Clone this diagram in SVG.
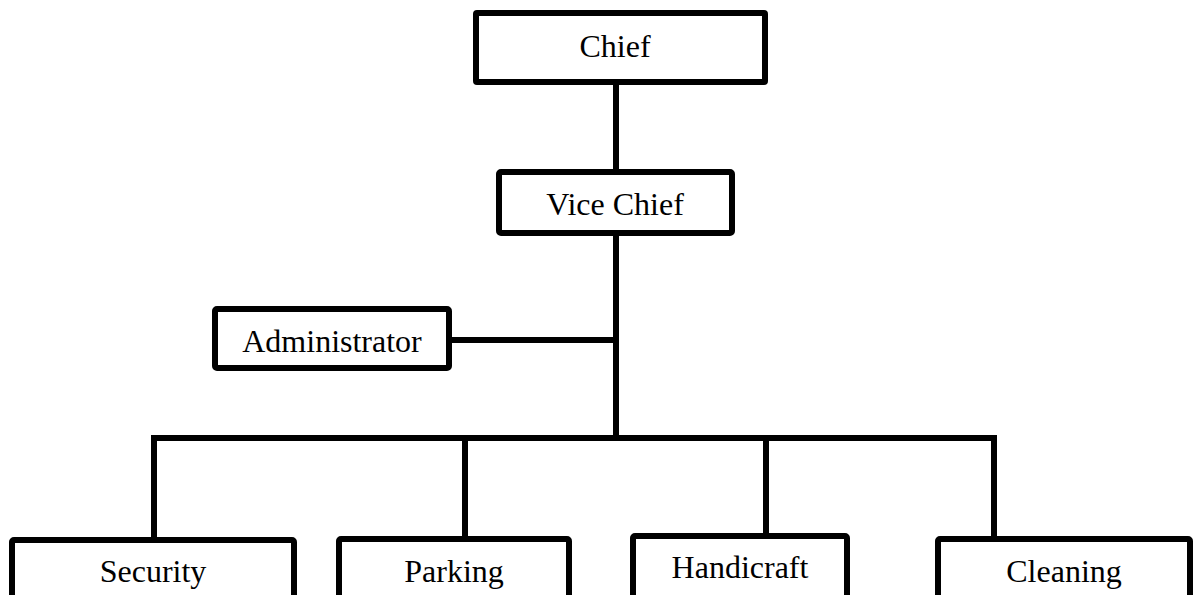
<svg xmlns="http://www.w3.org/2000/svg" width="1200" height="595" viewBox="0 0 1200 595">
  <style>
    .box { fill: #ffffff; stroke: #000000; stroke-width: 6; stroke-linejoin: round; }
    .wire { fill: none; stroke: #000000; stroke-width: 6; stroke-linecap: butt; stroke-linejoin: miter; }
    .label { font-family: "Liberation Serif", "Times New Roman", serif; font-size: 32px; fill: #000000; text-anchor: middle; }
  </style>
  <rect width="1200" height="595" fill="#ffffff"/>

  <!-- connectors -->
  <g id="connectors">
    <line class="wire" x1="616" y1="85" x2="616" y2="172"/>
    <line class="wire" x1="616" y1="233" x2="616" y2="441"/>
    <line class="wire" x1="449" y1="340" x2="616" y2="340"/>
    <path class="wire" d="M154 540 V438 H994 V540"/>
    <line class="wire" x1="465" y1="438" x2="465" y2="539"/>
    <line class="wire" x1="766" y1="438" x2="766" y2="536"/>
  </g>

  <g id="chief">
    <rect class="box" x="476" y="13" width="289" height="69" rx="1"/>
    <text class="label" x="615" y="57">Chief</text>
  </g>

  <g id="vice-chief">
    <rect class="box" x="499" y="172" width="233" height="61" rx="2"/>
    <text class="label" x="615" y="215">Vice Chief</text>
  </g>

  <g id="administrator">
    <rect class="box" x="215" y="309" width="234" height="59" rx="2"/>
    <text class="label" x="332" y="352">Administrator</text>
  </g>

  <g id="security">
    <rect class="box" x="12" y="540" width="282" height="80" rx="2"/>
    <text class="label" x="153" y="582">Security</text>
  </g>

  <g id="parking">
    <rect class="box" x="339" y="539" width="230" height="80" rx="2"/>
    <text class="label" x="454" y="582">Parking</text>
  </g>

  <g id="handicraft">
    <rect class="box" x="633" y="536" width="214" height="80" rx="2"/>
    <text class="label" x="740" y="578">Handicraft</text>
  </g>

  <g id="cleaning">
    <rect class="box" x="938" y="539" width="252" height="80" rx="2"/>
    <text class="label" x="1064" y="582">Cleaning</text>
  </g>
</svg>
